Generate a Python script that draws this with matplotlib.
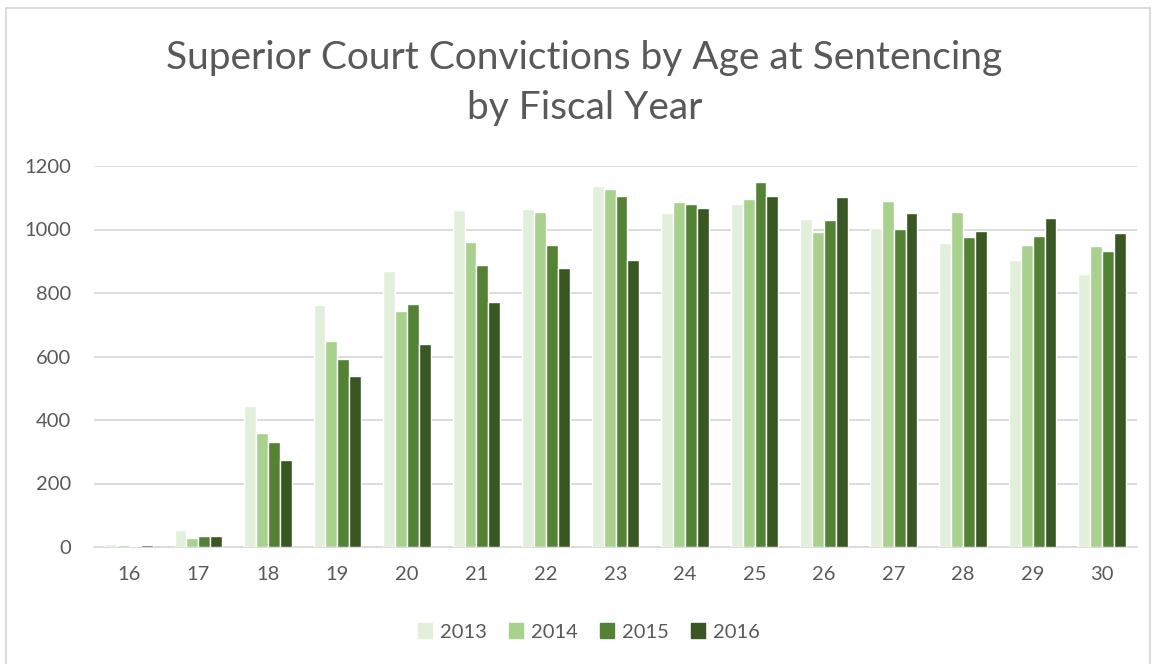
import matplotlib
matplotlib.use("Agg")
import matplotlib.pyplot as plt
import numpy as np
from matplotlib.lines import Line2D

ages = ["16", "17", "18", "19", "20", "21", "22", "23", "24", "25", "26", "27", "28", "29", "30"]
years = ["2013", "2014", "2015", "2016"]
v2013 = [10, 52, 444, 763, 870, 1061, 1063, 1138, 1052, 1080, 1033, 1004, 957, 904, 860]
v2014 = [7, 27, 358, 650, 742, 960, 1055, 1129, 1087, 1095, 992, 1091, 1055, 951, 947]
v2015 = [4, 34, 332, 592, 766, 888, 952, 1107, 1080, 1150, 1029, 1002, 976, 979, 933]
v2016 = [5, 36, 275, 540, 639, 771, 878, 904, 1069, 1106, 1102, 1052, 995, 1035, 990]
series = [v2013, v2014, v2015, v2016]
colors = ["#E2EFDA", "#A9D18E", "#548235", "#385723"]

txt = "#595959"
grid = "#D9D9D9"
font = "Lato"

fig = plt.figure(figsize=(11.57, 6.64), dpi=100)
ax = fig.add_axes([94/1157, 1-547/664, (1137-94)/1157, (547-166)/664])

x = np.arange(len(ages))
step = 0.171
for i, (vals, c) in enumerate(zip(series, colors)):
    ax.bar(x + (i - 1.5) * step, vals, width=step, color=c,
           edgecolor="white", linewidth=1.0, label=years[i], zorder=3)

ax.set_xlim(-0.5, len(ages) - 0.5)
ax.set_ylim(0, 1200)
ax.set_yticks(range(0, 1201, 200))
ax.set_xticks(x)
ax.set_xticklabels(ages)
ax.yaxis.grid(True, color=grid, linewidth=1.3, zorder=0)
ax.set_axisbelow(True)
for s in ["top", "right", "left"]:
    ax.spines[s].set_visible(False)
ax.spines["bottom"].set_color(grid)
ax.spines["bottom"].set_linewidth(1.3)
ax.tick_params(axis="both", length=0, labelsize=14.5, colors=txt)
ax.tick_params(axis="x", pad=14)
ax.tick_params(axis="y", pad=16.5)
for lab in ax.get_xticklabels() + ax.get_yticklabels():
    lab.set_fontfamily(font)

fig.text(0.505, 1-58/664, "Superior Court Convictions by Age at Sentencing",
         ha="center", va="center", fontsize=28, color=txt, family=font)
fig.text(0.505, 1-108/664, "by Fiscal Year",
         ha="center", va="center", fontsize=28, color=txt, family=font)

handles = [plt.Rectangle((0, 0), 1, 1, color=c) for c in colors]
fig.legend(handles, years, loc="center", bbox_to_anchor=(0.509, 1-632/664),
           ncol=4, frameon=False, handlelength=0.7, handleheight=0.7,
           handletextpad=0.4, columnspacing=1.1,
           prop={"family": font, "size": 14.5}, labelcolor=txt)

# chart border
fig.add_artist(Line2D([6/1157, 6/1157], [0, 1-8/664], transform=fig.transFigure, color=grid, lw=1.3))
fig.add_artist(Line2D([6/1157, 1150/1157], [1-8/664, 1-8/664], transform=fig.transFigure, color=grid, lw=1.3))
fig.add_artist(Line2D([1150/1157, 1150/1157], [0, 1-8/664], transform=fig.transFigure, color=grid, lw=1.3))

fig.savefig("out.png", dpi=100, facecolor="white")
